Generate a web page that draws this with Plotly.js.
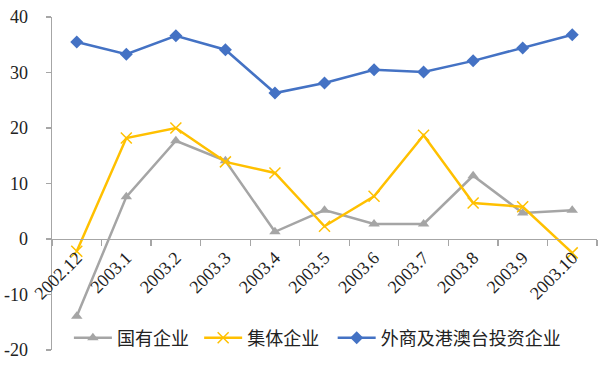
<!DOCTYPE html>
<html>
<head>
<meta charset="utf-8">
<script src="https://cdn.plot.ly/plotly-3.0.1.min.js"></script>
<style>html,body{margin:0;padding:0;background:#fff;}#chart{width:600px;height:367px;}</style>
</head>
<body>
<div id="chart"></div>
<script>
var categories = ["2002.12","2003.1","2003.2","2003.3","2003.4","2003.5","2003.6","2003.7","2003.8","2003.9","2003.10"];
var stateOwned = [-13.9, 7.6, 17.7, 14.1, 1.3, 5.2, 2.7, 2.7, 11.4, 4.7, 5.2];
var collective = [-2.2, 18.2, 20.0, 13.9, 11.9, 2.3, 7.7, 18.7, 6.5, 5.8, -2.5];
var foreign = [35.5, 33.3, 36.6, 34.1, 26.3, 28.1, 30.5, 30.1, 32.1, 34.4, 36.8];
var seriesNames = ["国有企业", "集体企业", "外商及港澳台投资企业"];
var yTicks = [-20, -10, 0, 10, 20, 30, 40];

var traces = [
  {x: categories, y: stateOwned, name: seriesNames[0], type: 'scatter', mode: 'lines+markers', legend: 'legend',
   line: {color: '#a5a5a5', width: 2.5}, marker: {symbol: 'triangle-up', size: 10, color: '#a5a5a5'}},
  {x: categories, y: collective, name: seriesNames[1], type: 'scatter', mode: 'lines+markers', legend: 'legend2',
   line: {color: '#ffc000', width: 2.5}, marker: {symbol: 'x-thin', size: 11, line: {color: '#ffc000', width: 1.5}, color: '#ffc000'}},
  {x: categories, y: foreign, name: seriesNames[2], type: 'scatter', mode: 'lines+markers', legend: 'legend3',
   line: {color: '#4472c4', width: 2.5}, marker: {symbol: 'diamond', size: 10, color: '#4472c4'}}
];

function leg(x) {
  return {orientation: 'h', x: x, xanchor: 'left', y: 0.036, yanchor: 'middle',
          font: {family: 'Noto Sans CJK SC', size: 18, color: '#222'},
          itemwidth: 38, bgcolor: 'rgba(255,255,255,0)'};
}

var layout = {
  width: 600, height: 367,
  margin: {l: 52, r: 3, t: 17, b: 17},
  paper_bgcolor: '#fff', plot_bgcolor: 'rgba(0,0,0,0)',
  showlegend: true,
  legend: leg(0.031),
  legend2: leg(0.270),
  legend3: leg(0.515),
  xaxis: {type: 'category', range: [-0.5, 10.5], anchor: 'free', position: 1/3,
          showline: true, linecolor: '#a6a6a6', linewidth: 1.3,
          ticks: 'outside', tickson: 'boundaries', ticklen: 6, tickcolor: '#a6a6a6', tickwidth: 1.3,
          tickangle: -45, showgrid: false, zeroline: false,
          tickfont: {family: 'Liberation Serif', size: 18, color: '#222'}},
  yaxis: {range: [-20, 40], domain: [0, 1], tickvals: yTicks, ticktext: yTicks.map(String),
          showline: true, linecolor: '#a6a6a6', linewidth: 1.3,
          ticks: 'outside', ticklen: 5, tickcolor: '#a6a6a6', tickwidth: 1.3,
          showgrid: false, zeroline: false, ticklabelstandoff: 14,
          tickfont: {family: 'Liberation Serif', size: 18, color: '#222'}}
};

Plotly.newPlot('chart', traces, layout, {displayModeBar: false, staticPlot: true});
</script>
</body>
</html>
